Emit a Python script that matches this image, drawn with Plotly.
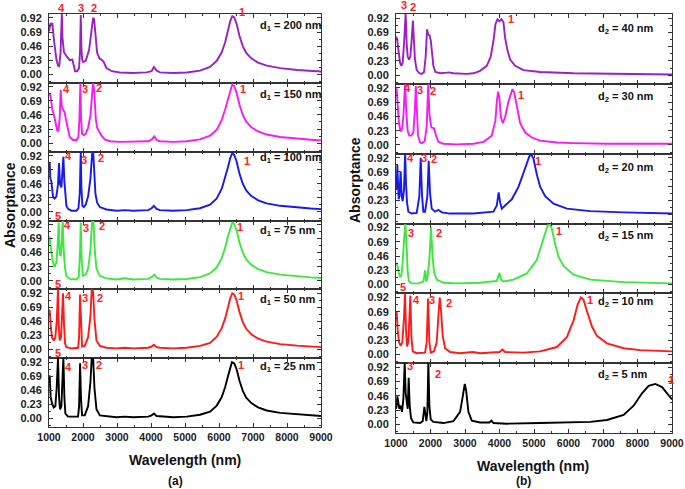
import plotly.graph_objects as go

W, H = 685, 489

# ---------------- data: (wavelength nm, absorptance) ----------------
# Panel (a): varying d1
a_200 = [(1000,0.70),(1020,0.74),(1049,0.84),(1079,0.80),(1098,0.84),(1138,0.60),(1177,0.40),(1216,0.25),(1265,0.14),(1300,0.13),
         (1340,0.35),(1364,0.80),(1378,1.00),(1395,0.60),(1413,0.45),(1440,0.36),(1511,0.30),(1609,0.23),(1688,0.24),(1727,0.12),
         (1767,0.05),(1826,0.05),(1885,0.10),(1914,0.40),(1934,0.97),(1953,0.45),(1973,0.25),(2002,0.20),(2081,0.22),(2179,0.40),
         (2238,0.70),(2297,0.92),(2327,0.90),(2366,0.60),(2415,0.35),(2494,0.25),(2543,0.24),(2612,0.20),(2690,0.10),(2850,0.05),
         (3084,0.03),(3477,0.02),(3870,0.03),(4017,0.05),(4086,0.12),(4165,0.06),(4263,0.03),(4656,0.02),(5049,0.03),(5442,0.06),
         (5737,0.12),(5934,0.22),(6081,0.36),(6180,0.52),(6260,0.70),(6330,0.87),(6390,0.95),(6450,0.93),(6520,0.82),(6600,0.63),
         (6700,0.46),(6800,0.35),(6950,0.26),(7150,0.19),(7400,0.14),(7800,0.10),(8300,0.07),(8700,0.055),(9000,0.045)]
a_150 = [(1000,0.78),(1020,0.82),(1049,0.75),(1069,0.62),(1098,0.55),(1147,0.45),(1197,0.30),(1246,0.20),(1275,0.20),(1314,0.40),
         (1344,0.87),(1373,0.62),(1413,0.55),(1462,0.50),(1511,0.35),(1560,0.20),(1609,0.10),(1708,0.05),(1806,0.05),(1865,0.10),
         (1895,0.40),(1924,1.00),(1943,0.40),(1973,0.15),(2022,0.13),(2081,0.15),(2150,0.25),(2219,0.45),(2268,0.80),(2297,1.00),
         (2337,0.80),(2376,0.40),(2415,0.25),(2474,0.20),(2543,0.12),(2641,0.06),(2789,0.03),(3084,0.02),(3477,0.02),(3919,0.03),
         (4027,0.06),(4096,0.11),(4165,0.05),(4263,0.03),(4656,0.02),(5049,0.03),(5442,0.06),(5737,0.12),(5934,0.22),(6081,0.38),
         (6180,0.55),(6260,0.72),(6330,0.88),(6390,0.96),(6450,0.93),(6520,0.82),(6600,0.63),(6700,0.46),(6800,0.35),(6950,0.26),
         (7150,0.19),(7400,0.14),(7800,0.10),(8300,0.07),(8700,0.055),(9000,0.045)]
a_100 = [(1000,0.78),(1020,0.80),(1039,0.55),(1069,0.50),(1118,0.25),(1167,0.22),(1216,0.25),(1265,0.45),(1295,0.80),(1324,0.45),
         (1364,0.40),(1393,0.65),(1423,0.90),(1452,0.50),(1482,0.25),(1511,0.10),(1560,0.05),(1658,0.02),(1806,0.02),(1865,0.06),
         (1904,0.30),(1934,1.00),(1953,0.40),(1983,0.10),(2022,0.08),(2081,0.12),(2150,0.25),(2219,0.55),(2268,0.95),(2297,1.00),
         (2327,0.70),(2366,0.30),(2415,0.15),(2494,0.08),(2690,0.04),(2985,0.02),(3231,0.03),(3477,0.02),(3919,0.03),(4017,0.06),
         (4086,0.10),(4165,0.05),(4263,0.03),(4656,0.02),(5049,0.03),(5442,0.06),(5737,0.12),(5934,0.22),(6081,0.38),(6180,0.55),
         (6260,0.72),(6330,0.88),(6390,0.96),(6450,0.93),(6520,0.82),(6600,0.63),(6700,0.46),(6800,0.35),(6950,0.26),(7150,0.19),
         (7400,0.14),(7800,0.10),(8300,0.07),(8700,0.055),(9000,0.045)]
a_75 = [(1000,0.70),(1020,0.72),(1039,0.60),(1069,0.45),(1118,0.30),(1167,0.22),(1216,0.30),(1256,0.60),(1285,0.95),(1314,0.45),
        (1344,0.40),(1373,0.60),(1403,1.00),(1432,0.50),(1472,0.20),(1511,0.08),(1609,0.03),(1806,0.02),(1875,0.06),(1914,0.50),
        (1934,0.95),(1963,0.30),(2002,0.08),(2081,0.10),(2150,0.20),(2219,0.50),(2268,1.00),(2307,1.00),(2346,0.50),(2396,0.20),
        (2494,0.08),(2690,0.04),(2985,0.02),(3231,0.04),(3477,0.02),(3919,0.03),(4017,0.06),(4096,0.10),(4165,0.05),(4263,0.03),
        (4656,0.02),(5049,0.03),(5442,0.06),(5737,0.12),(5934,0.22),(6081,0.37),(6180,0.54),(6260,0.72),(6330,0.87),(6390,0.95),
        (6450,0.93),(6520,0.82),(6600,0.63),(6700,0.46),(6800,0.35),(6950,0.26),(7150,0.19),(7400,0.14),(7800,0.10),(8300,0.07),
        (8700,0.055),(9000,0.045)]
a_50 = [(1000,0.63),(1020,0.65),(1049,0.40),(1088,0.20),(1138,0.15),(1187,0.20),(1226,0.45),(1256,0.85),(1265,1.00),(1285,0.40),
        (1314,0.15),(1354,0.20),(1383,0.60),(1413,0.92),(1442,0.40),(1472,0.10),(1511,0.04),(1658,0.02),(1855,0.03),(1885,0.20),
        (1914,0.90),(1943,0.30),(1973,0.05),(2052,0.06),(2150,0.20),(2219,0.55),(2258,1.00),(2297,0.95),(2337,0.50),(2396,0.15),
        (2494,0.06),(2690,0.03),(2985,0.02),(3231,0.03),(3477,0.02),(3919,0.03),(4017,0.05),(4086,0.08),(4165,0.04),(4263,0.03),
        (4656,0.02),(5049,0.03),(5442,0.06),(5737,0.11),(5934,0.21),(6081,0.35),(6180,0.51),(6260,0.68),(6330,0.84),(6390,0.92),
        (6450,0.90),(6520,0.80),(6600,0.62),(6700,0.45),(6800,0.34),(6950,0.25),(7150,0.18),(7400,0.13),(7800,0.09),(8300,0.065),
        (8700,0.05),(9000,0.04)]
a_25 = [(1000,0.68),(1020,0.70),(1049,0.35),(1088,0.25),(1138,0.18),(1187,0.20),(1226,0.50),(1265,1.00),(1295,0.35),(1324,0.15),
        (1364,0.20),(1393,0.60),(1423,1.00),(1452,0.35),(1482,0.08),(1560,0.03),(1855,0.03),(1885,0.20),(1914,0.90),(1943,0.30),
        (1973,0.05),(2052,0.05),(2150,0.20),(2219,0.60),(2258,1.00),(2297,1.00),(2337,0.50),(2396,0.15),(2494,0.05),(2985,0.02),
        (3231,0.03),(3477,0.02),(3919,0.03),(4017,0.05),(4086,0.08),(4165,0.04),(4656,0.02),(5049,0.03),(5442,0.06),(5737,0.11),
        (5934,0.21),(6081,0.35),(6180,0.51),(6260,0.68),(6330,0.84),(6380,0.92),(6450,0.90),(6520,0.80),(6600,0.62),(6700,0.45),
        (6800,0.34),(6950,0.25),(7150,0.18),(7400,0.13),(7800,0.09),(8300,0.065),(8700,0.05),(9000,0.04)]

# Panel (b): varying d2
b_40 = [(1000,0.62),(1019,0.60),(1039,0.55),(1077,0.35),(1116,0.20),(1155,0.15),(1193,0.20),(1232,0.50),(1280,1.00),(1310,0.50),
        (1339,0.30),(1378,0.25),(1416,0.30),(1445,0.50),(1490,0.88),(1515,0.60),(1550,0.25),(1600,0.08),(1677,0.03),(1745,0.02),
        (1813,0.05),(1860,0.30),(1900,0.74),(1935,0.65),(1975,0.64),(2010,0.55),(2045,0.35),(2083,0.15),(2142,0.05),(2277,0.03),
        (2470,0.04),(2528,0.045),(2664,0.03),(3051,0.02),(3244,0.03),(3438,0.07),(3631,0.15),(3747,0.30),(3825,0.55),(3883,0.82),
        (3941,0.90),(3999,0.87),(4057,0.90),(4115,0.85),(4163,0.60),(4231,0.40),(4308,0.25),(4454,0.15),(4695,0.08),(5179,0.05),
        (6147,0.03),(7114,0.02),(9000,0.01)]
b_30 = [(1000,0.92),(1019,0.90),(1048,0.65),(1087,0.35),(1135,0.22),(1174,0.25),(1213,0.45),(1242,0.80),(1265,1.00),(1300,0.50),
        (1339,0.22),(1387,0.15),(1445,0.15),(1503,0.20),(1542,0.50),(1575,0.95),(1605,0.50),(1638,0.15),(1697,0.04),(1755,0.03),
        (1832,0.06),(1890,0.30),(1935,1.00),(1967,0.50),(2025,0.28),(2103,0.27),(2161,0.15),(2229,0.05),(2374,0.02),(2761,0.01),
        (3244,0.02),(3535,0.05),(3776,0.15),(3883,0.40),(3922,0.70),(3960,0.86),(3999,0.75),(4038,0.45),(4096,0.35),(4163,0.45),
        (4260,0.70),(4357,0.88),(4376,0.90),(4425,0.85),(4502,0.60),(4599,0.35),(4744,0.20),(4937,0.12),(5179,0.07),(5663,0.04),
        (6147,0.03),(7114,0.02),(9000,0.02)]
b_20 = [(1000,0.40),(1019,0.45),(1039,0.80),(1058,0.50),(1077,0.25),(1097,0.30),(1116,0.50),(1135,0.70),(1164,0.30),(1193,0.22),
        (1232,0.40),(1265,1.00),(1290,0.50),(1319,0.20),(1358,0.05),(1455,0.02),(1600,0.03),(1677,0.30),(1716,0.92),(1755,0.30),
        (1793,0.05),(1842,0.05),(1909,0.30),(1948,0.87),(1987,0.35),(2035,0.10),(2132,0.05),(2229,0.08),(2325,0.04),(2567,0.02),
        (3244,0.02),(3825,0.05),(3922,0.15),(3975,0.36),(4018,0.20),(4067,0.10),(4163,0.15),(4357,0.25),(4550,0.45),(4744,0.75),
        (4870,0.95),(4928,0.97),(4986,0.90),(5082,0.65),(5179,0.45),(5324,0.30),(5566,0.18),(5953,0.10),(6630,0.06),(7598,0.04),
        (9000,0.02)]
b_15 = [(1000,0.35),(1019,0.33),(1048,0.30),(1077,0.20),(1116,0.12),(1155,0.15),(1193,0.35),(1232,0.70),(1271,1.00),(1310,0.60),
        (1339,0.20),(1377,0.05),(1455,0.02),(1648,0.02),(1793,0.05),(1822,0.15),(1842,0.23),(1856,0.20),(1871,0.05),(1909,0.10),
        (1967,0.40),(2016,0.92),(2054,0.50),(2103,0.20),(2180,0.08),(2374,0.03),(2761,0.02),(3438,0.03),(3922,0.06),(3999,0.19),
        (4047,0.08),(4115,0.05),(4405,0.08),(4792,0.18),(5082,0.40),(5276,0.75),(5392,0.95),(5450,0.98),(5518,0.90),(5614,0.65),
        (5711,0.45),(5856,0.30),(6147,0.16),(6630,0.08),(7598,0.04),(9000,0.02)]
b_10 = [(1000,0.66),(1019,0.68),(1048,0.40),(1087,0.20),(1135,0.14),(1184,0.20),(1232,0.60),(1261,1.00),(1290,0.40),(1319,0.13),
        (1358,0.20),(1387,0.60),(1416,0.95),(1445,0.30),(1484,0.05),(1600,0.02),(1842,0.03),(1890,0.20),(1929,0.90),(1967,0.20),
        (2006,0.03),(2103,0.05),(2180,0.20),(2238,0.70),(2267,0.92),(2306,0.70),(2354,0.30),(2422,0.10),(2567,0.04),(2857,0.02),
        (3225,0.04),(3438,0.02),(3999,0.04),(4086,0.08),(4163,0.04),(4695,0.03),(5179,0.05),(5663,0.12),(5953,0.28),(6147,0.55),
        (6263,0.80),(6359,0.92),(6437,0.88),(6534,0.70),(6679,0.45),(6824,0.30),(7114,0.18),(7598,0.10),(8081,0.07),(9000,0.05)]
b_5 = [(1000,0.25),(1019,0.30),(1039,0.45),(1068,0.35),(1097,0.25),(1135,0.30),(1174,0.20),(1213,0.40),(1252,1.00),(1281,0.50),
       (1310,0.35),(1339,0.25),(1368,0.75),(1397,0.30),(1435,0.10),(1503,0.03),(1697,0.02),(1774,0.05),(1822,0.28),(1851,0.15),
       (1880,0.05),(1909,0.20),(1938,1.00),(1967,0.30),(2006,0.08),(2083,0.04),(2229,0.03),(2374,0.02),(2664,0.05),(2857,0.20),
       (2935,0.45),(2993,0.65),(3032,0.55),(3099,0.20),(3196,0.06),(3438,0.03),(3709,0.03),(3767,0.06),(3825,0.02),(4212,0.01),
       (5179,0.02),(6147,0.03),(6630,0.04),(7114,0.07),(7598,0.15),(7888,0.30),(8130,0.50),(8323,0.62),(8517,0.65),(8710,0.60),
       (8855,0.50),(9000,0.40)]

left_series = [a_200, a_150, a_100, a_75, a_50, a_25]
right_series = [b_40, b_30, b_20, b_15, b_10, b_5]
left_labels = ["d<sub>1</sub> = 200 nm", "d<sub>1</sub> = 150 nm", "d<sub>1</sub> = 100 nm",
               "d<sub>1</sub> = 75 nm", "d<sub>1</sub> = 50 nm", "d<sub>1</sub> = 25 nm"]
right_labels = ["d<sub>2</sub> = 40 nm", "d<sub>2</sub> = 30 nm", "d<sub>2</sub> = 20 nm",
                "d<sub>2</sub> = 15 nm", "d<sub>2</sub> = 10 nm", "d<sub>2</sub> = 5 nm"]
left_label_y = [0.79, 0.78, 0.88, 0.81, 0.81, 0.84]
right_label_y = [0.74, 0.77, 0.76, 0.78, 0.84, 0.80]
colors = ["#9A1FC4", "#F51BF5", "#1818F0", "#3EE63E", "#FF1A1A", "#000000"]

# peak-number labels: (text, wavelength, absorptance) per subplot
left_peaks = [
    [("4",1364,1.09),("3",1934,1.09),("2",2327,1.09),("1",6671,1.02)],
    [("4",1511,0.89),("3",2052,0.89),("2",2464,0.90),("1",6720,0.88)],
    [("4",1580,0.92),("3",2022,0.85),("2",2523,0.88),("1",6838,0.84),("5",1265,-0.06)],
    [("4",1531,0.91),("3",2081,0.87),("2",2563,0.89),("1",6622,0.88),("5",1265,-0.06)],
    [("4",1560,0.88),("3",2052,0.85),("2",2513,0.85),("1",6641,0.88),("5",1265,-0.06)],
    [("4",1580,0.84),("3",2061,0.88),("2",2464,0.88),("1",6641,0.88)],
]
right_peaks = [
    [("3",1232,1.13),("2",1503,1.10),("1",4328,0.91)],
    [("4",1339,0.92),("3",1697,0.88),("2",2083,0.87),("1",4628,0.81)],
    [("4",1406,0.92),("3",1822,0.92),("2",2112,0.90),("1",5111,0.87)],
    [("3",1435,0.84),("2",2248,0.84),("1",5731,0.87),("5",1213,-0.04)],
    [("4",1600,0.88),("3",2035,0.88),("2",2538,0.83),("1",6611,0.87)],
    [("3",1420,0.94),("2",2209,0.81),("1",8981,0.72)],
]

x_ticks = [1000, 2000, 3000, 4000, 5000, 6000, 7000, 8000, 9000]
y_ticks = [0.00, 0.23, 0.46, 0.69, 0.92]
y_ticktext = ["0.00", "0.23", "0.46", "0.69", "0.92"]

# ---------------- figure ----------------
FONT = "Liberation Sans"
Y0, Y1 = -0.14, 0.985
fig = go.Figure()
layout = dict(width=W, height=H, margin=dict(l=0, r=0, t=0, b=0, autoexpand=False),
              paper_bgcolor="white", plot_bgcolor="white", showlegend=False)
annotations = []

left_dom = [49 / W, 321 / W]
right_dom = [396 / W, 672 / W]
left_edges = [14 + i * (427 - 14) / 6 for i in range(7)]
right_edges = [14 + i * (433 - 14) / 6 for i in range(7)]

panels = [(left_series, left_dom, left_edges, left_labels, left_label_y, left_peaks, 7160),
          (right_series, right_dom, right_edges, right_labels, right_label_y, right_peaks, 6800)]

def ydom(v):
    return (v - Y0) / (Y1 - Y0)

k = 0
for series, xdom, edges, dlabels, dlabel_y, peaks, dx in panels:
    for i in range(6):
        k += 1
        s = "" if k == 1 else str(k)
        xs = [p[0] for p in series[i]]
        ys = [p[1] for p in series[i]]
        fig.add_trace(go.Scatter(x=xs, y=ys, mode="lines", xaxis=f"x{s}", yaxis=f"y{s}",
                                 line=dict(color=colors[i], width=1.9, shape="linear")))
        top, bot = edges[i], edges[i + 1]
        layout[f"xaxis{s}"] = dict(
            domain=xdom, anchor=f"y{s}", range=[1000, 9000], showgrid=False, zeroline=False,
            automargin=False, showline=True, linecolor="#333", linewidth=1, mirror="ticks",
            ticks="inside", ticklen=4, tickwidth=1, tickcolor="#333",
            tickvals=x_ticks, showticklabels=(i == 5),
            tickfont=dict(family=FONT, size=10.5, color="#222", weight="bold"),
            minor=dict(ticks="inside", ticklen=2, tickwidth=1, tickcolor="#333", dtick=500, tick0=1000, showgrid=False))
        layout[f"yaxis{s}"] = dict(
            domain=[1 - bot / H, 1 - top / H], anchor=f"x{s}", range=[Y0, Y1],
            automargin=False, showgrid=False, zeroline=False, showline=True, linecolor="#333", linewidth=1,
            mirror="ticks", ticks="inside", ticklen=4, tickwidth=1, tickcolor="#333",
            tickvals=y_ticks, ticktext=y_ticktext, ticklabelstandoff=4,
            tickfont=dict(family=FONT, size=11, color="#222", weight="bold"),
            minor=dict(ticks="inside", ticklen=2, tickwidth=1, tickcolor="#333",
                       tickvals=[-0.115, 0.115, 0.345, 0.575, 0.805], showgrid=False))
        annotations.append(dict(x=dx, y=ydom(dlabel_y[i]), xref=f"x{s}", yref=f"y{s} domain", text=dlabels[i],
                                showarrow=False, xanchor="left", yanchor="middle",
                                font=dict(family=FONT, size=11, color="#111", weight="bold")))
        for txt, wx, wy in peaks[i]:
            annotations.append(dict(x=wx, y=ydom(wy), xref=f"x{s}", yref=f"y{s} domain", text=txt,
                                    showarrow=False, xanchor="center", yanchor="middle",
                                    font=dict(family=FONT, size=11, color="#FF2020", weight="bold")))

# axis titles and panel captions
def pa(x, y, text, size, angle=0):
    annotations.append(dict(x=x / W, y=1 - y / H, xref="paper", yref="paper", text=text, showarrow=False,
                            xanchor="center", yanchor="middle", textangle=angle,
                            font=dict(family=FONT, size=size, color="#111", weight="bold")))

pa(185, 460, "Wavelength (nm)", 14)
pa(175, 481, "(a)", 12)
pa(533, 466, "Wavelength (nm)", 14)
pa(523, 481, "(b)", 12)
pa(10, 205, "Absorptance", 14, -90)
pa(355, 180, "Absorptance", 14, -90)

layout["annotations"] = annotations
fig.update_layout(**layout)
fig.write_html("out.html", config={"displayModeBar": False},
               post_script="document.body.style.margin='0';document.body.style.overflow='hidden';")
